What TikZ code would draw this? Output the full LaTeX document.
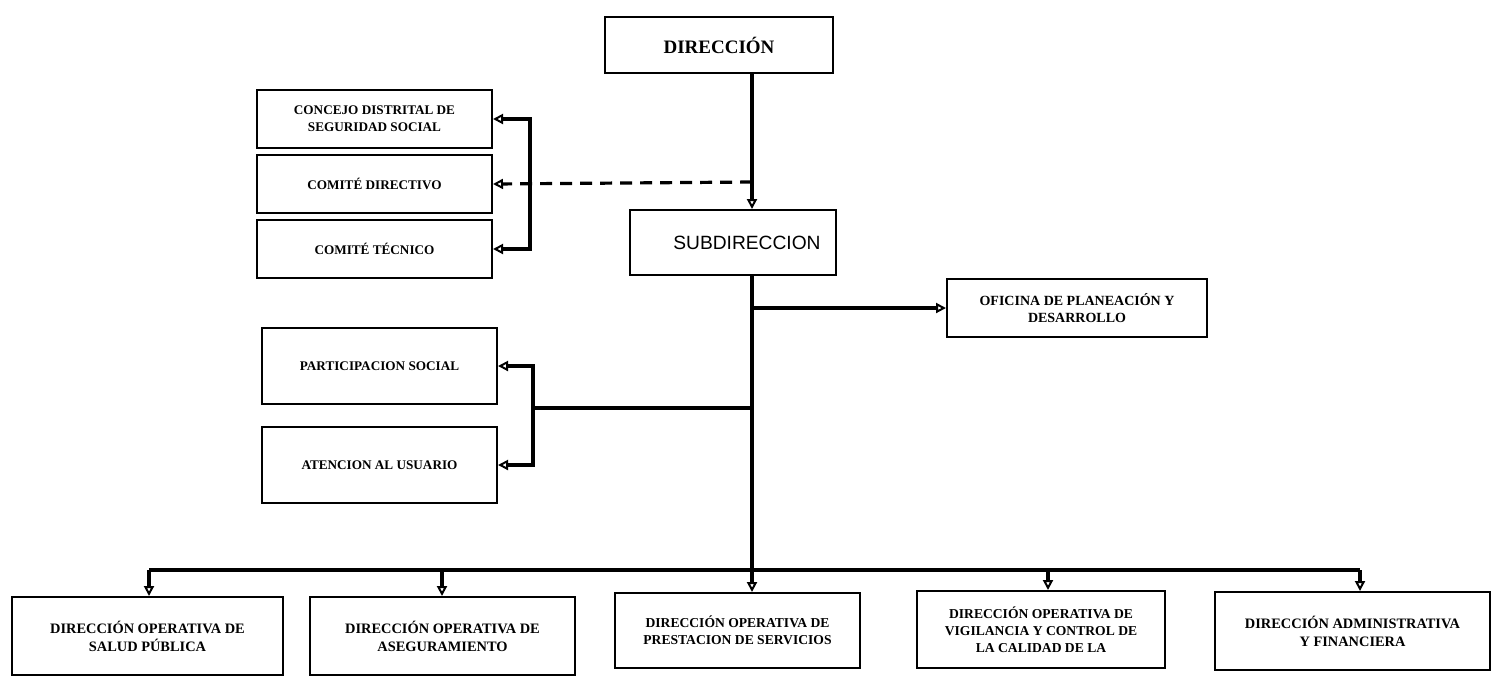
\documentclass[tikz,border=0pt]{standalone}
\usepackage{fontspec}
\setmainfont{Liberation Serif}
\newfontfamily\subfont{Liberation Sans}
\usetikzlibrary{arrows.meta}
\tikzset{
  box/.style={draw=black, line width=1pt, fill=white, align=center, inner sep=1pt,
              font=\fontsize{6.6}{8.5}\selectfont\bfseries},
  bbox/.style={box, font=\fontsize{7.2}{9}\selectfont\bfseries},
  conn/.style={draw=black, line width=1.6pt},
  arr/.style={conn, -{Triangle[open, length=5pt, width=5pt, line width=1pt]}},
  darr/.style={arr, dash pattern=on 6pt off 4pt},
}
\begin{document}
\begin{tikzpicture}[x=0.5pt, y=-0.5pt]
\useasboundingbox (0,0) rectangle (1498,677);
% top
\node[box, minimum width=114pt, minimum height=28pt, font=\fontsize{9.5}{11}\selectfont\bfseries] (dir) at (719,45) {DIRECCIÓN};
\node[box, minimum width=103pt, minimum height=32.5pt, font=\fontsize{9.6}{11}\selectfont\subfont] (sub) at (733,242.5) {\hspace*{14pt}SUBDIRECCION};
% left upper
\node[box, minimum width=117.5pt, minimum height=29pt] (con) at (374.5,119) {CONCEJO DISTRITAL DE\\SEGURIDAD SOCIAL};
\node[box, minimum width=117.5pt, minimum height=29pt] (cdir) at (374.5,184) {COMITÉ DIRECTIVO};
\node[box, minimum width=117.5pt, minimum height=29pt] (ctec) at (374.5,249) {COMITÉ TÉCNICO};
% right
\node[box, minimum width=130pt, minimum height=29pt, font=\fontsize{7}{8.8}\selectfont\bfseries] (ofi) at (1077,308) {OFICINA DE PLANEACIÓN Y\\DESARROLLO};
% left lower
\node[box, minimum width=117.5pt, minimum height=38pt] (par) at (379.5,366) {PARTICIPACION SOCIAL};
\node[box, minimum width=117.5pt, minimum height=38pt] (ate) at (379.5,465) {ATENCION AL USUARIO};
% bottom
\node[bbox, minimum width=135.5pt, minimum height=39pt] (b1) at (147.5,636) {DIRECCIÓN OPERATIVA DE\\SALUD PÚBLICA};
\node[bbox, minimum width=132.5pt, minimum height=39pt] (b2) at (442.5,636) {DIRECCIÓN OPERATIVA DE\\ASEGURAMIENTO};
\node[box, minimum width=122.5pt, minimum height=37.5pt, font=\fontsize{6.8}{8.6}\selectfont\bfseries] (b3) at (737.5,630.5) {DIRECCIÓN OPERATIVA DE\\PRESTACION DE SERVICIOS};
\node[box, minimum width=124pt, minimum height=38.5pt, font=\fontsize{6.8}{8.6}\selectfont\bfseries] (b4) at (1041,629.5) {DIRECCIÓN OPERATIVA DE\\VIGILANCIA Y CONTROL DE\\LA CALIDAD DE LA};
\node[bbox, minimum width=137.5pt, minimum height=39pt] (b5) at (1352.5,631) {DIRECCIÓN ADMINISTRATIVA\\Y FINANCIERA};
% coordinates
\coordinate (spine) at (752,0);
\coordinate (dj) at (752,182);
\coordinate (bk1) at (530,182);
\coordinate (lj) at (752,408);
\coordinate (bk2) at (533,408);
\coordinate (busL) at (149,570);
\coordinate (busM) at (752,570);
\coordinate (busR) at (1360,570);
\coordinate (t2) at (442,570);
\coordinate (t4) at (1048,570);
% connectors
\draw[arr] (spine |- dir.south) -- (spine |- sub.north);
\draw[darr] (dj) -- (cdir.east);
\draw[arr] (bk1) |- (con.east);
\draw[arr] (bk1) |- (ctec.east);
\draw[conn] (spine |- sub.south) -- (busM);
\draw[arr] (spine |- ofi.west) -- (ofi.west);
\draw[conn] (lj) -- (bk2);
\draw[arr] (bk2) |- (par.east);
\draw[arr] (bk2) |- (ate.east);
\draw[conn] (busL) -- (busR);
\draw[arr] (busL) -- (busL |- b1.north);
\draw[arr] (t2) -- (t2 |- b2.north);
\draw[arr] (busM) -- (busM |- b3.north);
\draw[arr] (t4) -- (t4 |- b4.north);
\draw[arr] (busR) -- (busR |- b5.north);
\end{tikzpicture}
\end{document}
